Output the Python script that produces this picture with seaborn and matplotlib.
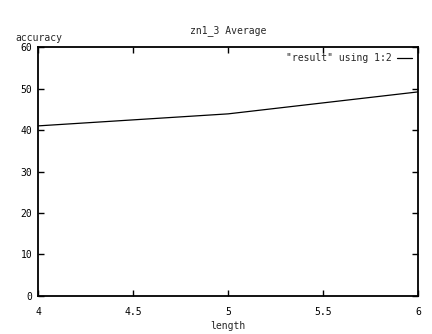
import pandas as pd
import matplotlib.pyplot as plt
import seaborn as sns

# values
length = [4, 5, 6]
accuracy = [41.0, 43.9, 49.2]
x_ticks = [4, 4.5, 5, 5.5, 6]
x_labels = ['4', '4.5', '5', '5.5', '6']
y_ticks = [0, 10, 20, 30, 40, 50, 60]

df = pd.DataFrame({'length': length, 'accuracy': accuracy})

sns.set_style('ticks')
plt.rcParams['font.family'] = ['DejaVu Sans Mono']

fig = plt.figure(figsize=(4.32, 3.34), dpi=100)
ax = fig.add_axes([0.088, 0.114, 0.880, 0.745])

sns.lineplot(data=df, x='length', y='accuracy', ax=ax, color='black',
             linewidth=0.9, label='"result" using 1:2')

ax.set_xlim(4, 6)
ax.set_ylim(0, 60)
ax.set_xticks(x_ticks)
ax.set_xticklabels(x_labels)
ax.set_yticks(y_ticks)
ax.tick_params(direction='in', length=4, width=1, top=True, right=True,
               labelsize=7, colors='black')
ax.tick_params(axis='x', pad=8)
ax.tick_params(axis='y', pad=4)
for s in ax.spines.values():
    s.set_linewidth(1.3)
    s.set_color('black')

ax.set_xlabel('length', fontsize=7, labelpad=3)
ax.set_ylabel('')
fig.text(0.036, 0.886, 'accuracy', fontsize=7, ha='left', va='center')
ax.set_title('zn1_3 Average', fontsize=7, pad=10)

ax.legend(loc='upper right', frameon=False, fontsize=7, markerfirst=False,
          handlelength=1.6, handletextpad=0.5, borderaxespad=0.2)

plt.savefig('out.png', dpi=100)
